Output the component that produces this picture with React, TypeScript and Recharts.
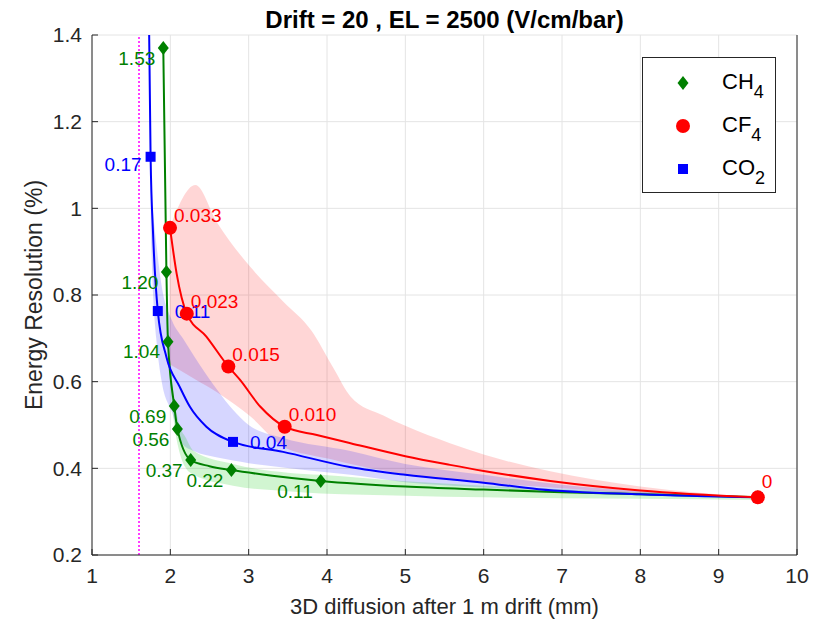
import React from 'react'
import {
  ComposedChart, Line, Scatter, Area, XAxis, YAxis, CartesianGrid,
  ReferenceLine, Legend,
} from 'recharts'

const FONT = '"Liberation Sans", Arial, Helvetica, sans-serif'
const INK = '#262626'
const GREEN = '#008000'
const RED = '#ff0000'
const BLUE = '#0000ff'

const X_TICKS = [1, 2, 3, 4, 5, 6, 7, 8, 9, 10]
const Y_TICKS = [0.2, 0.4, 0.6, 0.8, 1, 1.2, 1.4]
const DIFFUSION_LIMIT = 1.6

// measured points + their annotation
const CH4_X = [1.91, 1.95, 1.97, 2.05, 2.09, 2.26, 2.78, 3.92, 9.5]
const CH4_Y = [1.37, 0.853, 0.692, 0.544, 0.491, 0.419, 0.396, 0.371, 0.333]
const CH4_LABELS = ['1.53', '1.20', '1.04', '0.69', '0.56', '0.37', '0.22', '0.11', '']

const CF4_X = [1.996, 2.21, 2.74, 3.46, 9.5]
const CF4_Y = [0.955, 0.757, 0.635, 0.496, 0.333]
const CF4_LABELS = ['0.033', '0.023', '0.015', '0.010', '0']

const CO2_X = [1.748, 1.84, 2.8, 9.5]
const CO2_Y = [1.119, 0.763, 0.461, 0.333]
const CO2_LABELS = ['0.17', '0.11', '0.04', '']

// fitted curves
const CH4_FIT_X = [1.91, 1.95, 1.97, 2.05, 2.09, 2.26, 2.5, 2.78, 3.3, 3.92, 5, 6, 7, 8, 9.5]
const CH4_FIT_Y = [1.37, 0.853, 0.692, 0.544, 0.491, 0.419, 0.405, 0.396, 0.383, 0.371, 0.358, 0.351, 0.345, 0.34, 0.333]

const CF4_FIT_X = [1.996, 2.08, 2.21, 2.46, 2.74, 2.89, 3.15, 3.46, 3.87, 4.3, 5, 5.57, 6, 6.85, 8, 9.5]
const CF4_FIT_Y = [0.955, 0.85, 0.757, 0.704, 0.635, 0.604, 0.542, 0.496, 0.477, 0.458, 0.428, 0.408, 0.394, 0.371, 0.349, 0.333]

const CO2_FIT_X = [1.72, 1.748, 1.78, 1.84, 1.95, 2.12, 2.25, 2.46, 2.8, 3.44, 4.29, 5, 6, 6.7, 8, 9.5]
const CO2_FIT_Y = [1.55, 1.119, 0.94, 0.763, 0.657, 0.588, 0.542, 0.496, 0.461, 0.438, 0.403, 0.385, 0.367, 0.352, 0.34, 0.333]

// uncertainty bands
const CH4_BAND_X = [1.97, 2.05, 2.1, 2.2, 2.3, 2.8, 3.5, 3.92, 5, 6, 7, 8, 9.5]
const CH4_BAND_LO = [0.66, 0.5, 0.45, 0.4, 0.385, 0.36, 0.347, 0.342, 0.337, 0.333, 0.331, 0.33, 0.327]
const CH4_BAND_HI = [0.7, 0.56, 0.51, 0.47, 0.44, 0.41, 0.39, 0.385, 0.37, 0.36, 0.352, 0.345, 0.336]

const CF4_BAND_X = [1.99, 2.32, 2.6, 3.02, 3.44, 3.8, 4.08, 4.3, 4.72, 5, 5.57, 6, 6.85, 8, 9.5]
const CF4_BAND_LO = [0.64, 0.605, 0.575, 0.52, 0.45, 0.43, 0.42, 0.41, 0.395, 0.386, 0.375, 0.367, 0.356, 0.342, 0.333]
const CF4_BAND_HI = [0.955, 1.054, 0.966, 0.865, 0.785, 0.718, 0.632, 0.566, 0.522, 0.498, 0.458, 0.432, 0.393, 0.358, 0.333]

const CO2_BAND_X = [1.75, 1.78, 1.82, 1.89, 2.02, 2.16, 2.3, 2.6, 2.8, 3, 3.44, 4.3, 5, 6, 7, 8, 9.5]
const CO2_BAND_LO = [0.95, 0.8, 0.7, 0.6, 0.53, 0.455, 0.44, 0.425, 0.418, 0.412, 0.402, 0.385, 0.368, 0.356, 0.348, 0.34, 0.333]
const CO2_BAND_HI = [1.05, 0.99, 0.92, 0.82, 0.742, 0.7, 0.66, 0.581, 0.535, 0.5, 0.47, 0.44, 0.41, 0.385, 0.362, 0.347, 0.333]

const GASES = [
  { name: 'CH', sub: '4', color: GREEN, marker: 'diamond' },
  { name: 'CF', sub: '4', color: RED, marker: 'circle' },
  { name: 'CO', sub: '2', color: BLUE, marker: 'square' },
]

const toPoints = (xs: number[], ys: number[], labels: string[] = []) =>
  xs.map((x, i) => ({ x, y: ys[i], label: labels[i] ?? '', i }))

const toBand = (xs: number[], lo: number[], hi: number[]) =>
  xs.map((x, i) => ({ x, range: [lo[i], hi[i]] }))

const LABEL_SIZE = 19

function pointLabel(text: string, x: number, y: number, color: string, anchor: 'start' | 'end') {
  if (!text) return null
  return (
    <text x={x} y={y + LABEL_SIZE * 0.35} textAnchor={anchor} fill={color}
      fontSize={LABEL_SIZE} fontFamily={FONT}>
      {text}
    </text>
  )
}

function Ch4Point(props: any) {
  const { cx, cy, payload } = props
  return (
    <g>
      <polygon points={`${cx},${cy - 7} ${cx + 5.5},${cy} ${cx},${cy + 7} ${cx - 5.5},${cy}`} fill={GREEN} />
      {pointLabel(payload.label, cx - 8, cy + 10, GREEN, 'end')}
    </g>
  )
}

function Cf4Point(props: any) {
  const { cx, cy, payload } = props
  const last = payload.i === CF4_X.length - 1
  return (
    <g>
      <circle cx={cx} cy={cy} r={7} fill={RED} />
      {pointLabel(payload.label, cx + 4, cy - (last ? 16 : 12), RED, 'start')}
    </g>
  )
}

function Co2Point(props: any) {
  const { cx, cy, payload } = props
  const first = payload.i === 0
  return (
    <g>
      <rect x={cx - 5} y={cy - 5} width={10} height={10} fill={BLUE} />
      {first
        ? pointLabel(payload.label, cx - 9, cy + 8, BLUE, 'end')
        : pointLabel(payload.label, cx + 17, cy, BLUE, 'start')}
    </g>
  )
}

function LegendIcon({ marker, color }: { marker: string; color: string }) {
  return (
    <svg width={20} height={20} style={{ position: 'absolute', left: 30, top: -10 }}>
      {marker === 'diamond' && <polygon points="10,3 15.5,10 10,17 4.5,10" fill={color} />}
      {marker === 'circle' && <circle cx={10} cy={10} r={7} fill={color} />}
      {marker === 'square' && <rect x={5} y={5} width={10} height={10} fill={color} />}
    </svg>
  )
}

function GasLegend() {
  return (
    <div style={{
      position: 'relative', width: 134, height: 136, boxSizing: 'border-box',
      border: `1px solid ${INK}`, background: '#fff', fontFamily: FONT, color: '#000',
    }}>
      {GASES.map((g, i) => (
        <div key={g.name + g.sub} style={{ position: 'absolute', left: 0, top: 25 + i * 43 }}>
          <LegendIcon marker={g.marker} color={g.color} />
          <span style={{ position: 'absolute', left: 79, top: -13, fontSize: 22, lineHeight: '24px', whiteSpace: 'nowrap' }}>
            {g.name}
            <span style={{ fontSize: 18, position: 'relative', top: 9 }}>{g.sub}</span>
          </span>
        </div>
      ))}
    </div>
  )
}

export default function App() {
  const ch4 = toPoints(CH4_X, CH4_Y, CH4_LABELS)
  const cf4 = toPoints(CF4_X, CF4_Y, CF4_LABELS)
  const co2 = toPoints(CO2_X, CO2_Y, CO2_LABELS)
  const tickStyle = { fontSize: 21, fill: INK, fontFamily: FONT }

  return (
    <div style={{ position: 'absolute', left: 0, top: 0, width: 815, height: 626, background: '#fff' }}>
      <div style={{
        position: 'absolute', left: 92, top: 7, width: 705, textAlign: 'center',
        fontFamily: FONT, fontWeight: 'bold', fontSize: 24, lineHeight: '26px', color: '#000',
      }}>
        Drift = 20 , EL = 2500 (V/cm/bar)
      </div>
      <ComposedChart width={815} height={626} margin={{ top: 35, right: 0, bottom: 0, left: 0 }}>
        <CartesianGrid stroke="#e4e4e4" />
        <XAxis type="number" dataKey="x" domain={[1, 10]} ticks={X_TICKS} allowDataOverflow
          height={71} tickSize={-6} tickMargin={19} tick={tickStyle}
          axisLine={{ stroke: INK }} tickLine={{ stroke: INK }}
          label={{ value: '3D diffusion after 1 m drift (mm)', position: 'insideBottom', offset: 12, fontSize: 22, fill: INK, fontFamily: FONT }} />
        <XAxis xAxisId="top" orientation="top" type="number" dataKey="x" domain={[1, 10]} ticks={X_TICKS}
          height={0} tickSize={-6} tick={false} axisLine={{ stroke: INK }} tickLine={{ stroke: INK }} />
        <YAxis type="number" domain={[0.2, 1.4]} ticks={Y_TICKS} allowDataOverflow
          width={92} tickSize={-6} tickMargin={16} tick={tickStyle}
          axisLine={{ stroke: INK }} tickLine={{ stroke: INK }}
          label={{ value: 'Energy Resolution (%)', angle: -90, position: 'insideLeft', offset: 34, fontSize: 23, fill: INK, fontFamily: FONT, style: { textAnchor: 'middle' } }} />
        <YAxis yAxisId="right" orientation="right" type="number" domain={[0.2, 1.4]} ticks={Y_TICKS}
          width={18} tickSize={-6} tick={false} axisLine={{ stroke: INK }} tickLine={{ stroke: INK }} />

        <ReferenceLine x={DIFFUSION_LIMIT} stroke="#ff00ff" strokeDasharray="2 2" strokeWidth={1.5} />

        <Area data={toBand(CF4_BAND_X, CF4_BAND_LO, CF4_BAND_HI)} dataKey="range" type="monotone"
          stroke="none" fill={RED} fillOpacity={0.16} isAnimationActive={false} legendType="none" />
        <Area data={toBand(CO2_BAND_X, CO2_BAND_LO, CO2_BAND_HI)} dataKey="range" type="monotone"
          stroke="none" fill={BLUE} fillOpacity={0.16} isAnimationActive={false} legendType="none" />
        <Area data={toBand(CH4_BAND_X, CH4_BAND_LO, CH4_BAND_HI)} dataKey="range" type="monotone"
          stroke="none" fill="#00c800" fillOpacity={0.18} isAnimationActive={false} legendType="none" />

        <Line data={toPoints(CH4_FIT_X, CH4_FIT_Y)} dataKey="y" type="monotone" stroke={GREEN} strokeWidth={2}
          dot={false} activeDot={false} isAnimationActive={false} legendType="none" />
        <Line data={toPoints(CO2_FIT_X, CO2_FIT_Y)} dataKey="y" type="monotone" stroke={BLUE} strokeWidth={2}
          dot={false} activeDot={false} isAnimationActive={false} legendType="none" />
        <Line data={toPoints(CF4_FIT_X, CF4_FIT_Y)} dataKey="y" type="monotone" stroke={RED} strokeWidth={2}
          dot={false} activeDot={false} isAnimationActive={false} legendType="none" />

        <Scatter data={ch4} dataKey="y" shape={Ch4Point} isAnimationActive={false} />
        <Scatter data={co2} dataKey="y" shape={Co2Point} isAnimationActive={false} />
        <Scatter data={cf4} dataKey="y" shape={Cf4Point} isAnimationActive={false} />

        <Legend layout="horizontal" verticalAlign="middle" align="center"
          wrapperStyle={{ left: 642, top: 57, width: 134, height: 136 }} content={<GasLegend />} />
      </ComposedChart>
    </div>
  )
}
